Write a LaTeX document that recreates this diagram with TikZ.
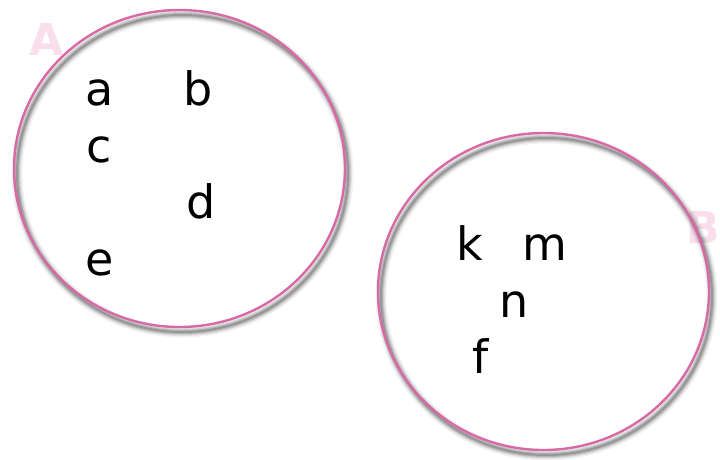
\documentclass[tikz,border=0pt]{standalone}
\usepackage{fontspec}
\setmainfont{DejaVu Sans}
\usepackage{tikz}
\definecolor{ringpink}{RGB}{216,104,166}
\definecolor{labelpink}{RGB}{249,222,236}
\tikzset{
  ring/.style={draw=ringpink, line width=2.4pt},
  ringshadow/.style={draw=black, line width=#1},
  elem/.style={anchor=base, font=\fontsize{46}{50}\selectfont, inner sep=0pt},
  setname/.style={anchor=base, font=\fontsize{44}{50}\selectfont\bfseries, text=labelpink, inner sep=0pt}
}
\begin{document}
\begin{tikzpicture}[x=1pt, y=-1pt]
			%%%%% START %%%%%
			\useasboundingbox (0, 0) rectangle (720, 459);
			
			\node[setname] (labA) at (47, 55) {A};
			\node[setname, anchor=base east] (labB) at (720, 243) {B};
			
			% shadows of the rings
			\foreach \w/\o in {11/0.05, 8/0.07, 6/0.09, 4/0.12, 2/0.16} {
				\draw[ringshadow=\w pt, opacity=\o] (182.5, 173.5) ellipse [x radius=165.5pt, y radius=158.5pt];
				\draw[ringshadow=\w pt, opacity=\o] (546.5, 296.5) ellipse [x radius=165.5pt, y radius=158.5pt];
			}
			
			\draw[ring] (179.5, 168.5) ellipse [x radius=165.5pt, y radius=158.5pt];
			\draw[ring] (543.5, 291.5) ellipse [x radius=165.5pt, y radius=158.5pt];
			
			\node[elem] (a) at (100, 105) {a};
			\node[elem] (b) at (198, 105) {b};
			\node[elem] (c) at (99, 162) {c};
			\node[elem] (d) at (201, 218) {d};
			\node[elem] (e) at (100, 275) {e};
			
			\node[elem] (k) at (470, 260) {k};
			\node[elem] (m) at (545, 260) {m};
			\node[elem] (n) at (514, 317) {n};
			\node[elem] (f) at (481, 373) {f};
			
			%%%%% END %%%%%
\end{tikzpicture}
\end{document}
